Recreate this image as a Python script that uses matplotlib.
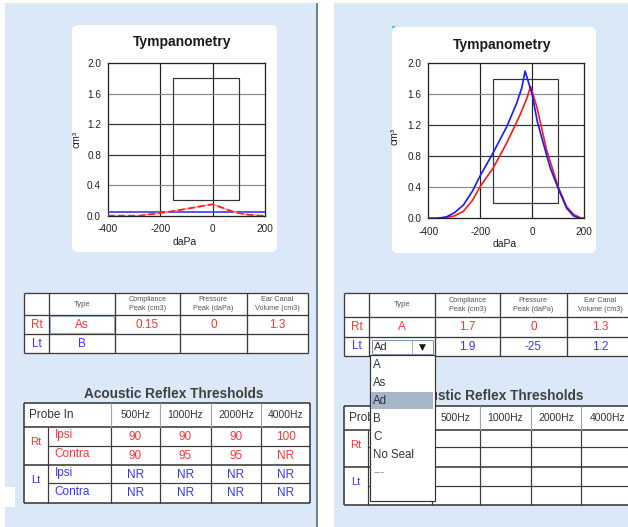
import matplotlib
matplotlib.use("Agg")
import matplotlib.pyplot as plt
from matplotlib.patches import Rectangle, FancyBboxPatch

W, H = 628, 527
plt.rcParams['font.family'] = ['Liberation Sans', 'DejaVu Sans']

# ---- tympanogram data (daPa -> cm3) ----
pressure_ticks = [-400, -200, 0, 200]
volume_ticks = [0.0, 0.4, 0.8, 1.2, 1.6, 2.0]
volume_grid = [0.4, 0.8, 1.2, 1.6]
normal_pressure = [-150, 100]
normal_volume = [0.2, 1.8]

left_rt_pressure = [-400, -280, -200, -150, 0, 80, 130, 180, 200]
left_rt_volume = [0.0, 0.0, 0.035, 0.06, 0.15, 0.05, 0.015, 0.0, 0.0]
left_lt_pressure = [-400, 200]
left_lt_volume = [0.045, 0.045]

right_rt_pressure = [-400, -368, -330, -300, -265, -230, -200, -150, -98, -47, -20, -6,
                     18, 56, 100, 133, 160, 190, 200]
right_rt_volume = [0.0, 0.0, 0.01, 0.03, 0.09, 0.23, 0.41, 0.65, 0.97, 1.33, 1.55, 1.7,
                   1.44, 0.88, 0.41, 0.15, 0.05, 0.0, 0.0]
right_lt_pressure = [-400, -368, -345, -329, -300, -265, -230, -200, -151, -98, -60, -40, -27,
                     0, 20, 43, 70, 100, 133, 160, 185, 200]
right_lt_volume = [0.0, 0.0, 0.01, 0.02, 0.07, 0.17, 0.35, 0.55, 0.84, 1.18, 1.48, 1.68, 1.9,
                   1.6, 1.25, 0.97, 0.65, 0.39, 0.13, 0.03, 0.0, 0.0]

# ---- table data ----
tymp_headers = ["Type", "Compliance\nPeak (cm3)", "Pressure\nPeak (daPa)", "Ear Canal\nVolume (cm3)"]
left_tymp_rt = ["As", "0.15", "0", "1.3"]
left_tymp_lt = ["B", "", "", ""]
right_tymp_rt = ["A", "1.7", "0", "1.3"]
right_tymp_lt = ["", "1.9", "-25", "1.2"]
combo_value = "Ad"
type_options = ["A", "As", "Ad", "B", "C", "No Seal", "---"]
selected_option = "Ad"

freqs = ["500Hz", "1000Hz", "2000Hz", "4000Hz"]
left_art = {
    ("Rt", "Ipsi"): ["90", "90", "90", "100"],
    ("Rt", "Contra"): ["90", "95", "95", "NR"],
    ("Lt", "Ipsi"): ["NR", "NR", "NR", "NR"],
    ("Lt", "Contra"): ["NR", "NR", "NR", "NR"],
}
# right table: the row names sit under the open drop-down list
right_art = {("Rt", ""): ["", "", "", ""], ("Rt ", ""): ["", "", "", ""],
             ("Lt", ""): ["", "", "", ""], ("Lt ", ""): ["", "", "", ""]}

RED = '#ff3535'
BLUE = '#3535ff'
PANEL = '#dbe8f7'
LINE = '#3a3a3a'
PX = 0.72  # points per pixel at dpi 100

fig = plt.figure(figsize=(W / 100, H / 100), dpi=100)
fig.patch.set_facecolor('white')

bg = fig.add_axes([0, 0, 1, 1])
bg.set_xlim(0, W)
bg.set_ylim(H, 0)
bg.axis('off')
bg.set_zorder(0)


def px_axes(l, t, r, b):
    return fig.add_axes([l / W, 1 - b / H, (r - l) / W, (b - t) / H])


def line(x0, y0, x1, y1, color=LINE, lw=1.0, z=3):
    bg.plot([x0, x1], [y0, y1], color=color, lw=lw * PX, solid_capstyle='butt', zorder=z)


def txt(x, y, s, size=8, color='#222', ha='center', weight='normal', z=4, **kw):
    return bg.text(x, y, s, fontsize=size, color=color, ha=ha, va='center', weight=weight, zorder=z, **kw)


# panels
bg.add_patch(Rectangle((5, 3), 311, H, fc=PANEL, ec='none', zorder=1))
bg.add_patch(Rectangle((316, 3), 2, H, fc='#6d8198', ec='none', zorder=1))
bg.add_patch(Rectangle((334, 3), W - 334, H, fc=PANEL, ec='none', zorder=1))
bg.add_patch(Rectangle((5, 487), 10, 20, fc='white', ec='none', zorder=1))


def tympanogram(card, box, curves, title_xy, xlabel_xy, ylabel_xy):
    l, t, r, b = card
    bg.add_patch(FancyBboxPatch((l, t), r - l, b - t, boxstyle="round,pad=0,rounding_size=6",
                                fc='white', ec='none', zorder=2))
    ax = px_axes(*box)
    ax.set_zorder(2)
    ax.set_facecolor('white')
    ax.set_xlim(-400, 200)
    ax.set_ylim(0, 2.0)
    ax.set_xticks(pressure_ticks)
    ax.set_xticklabels([str(p) for p in pressure_ticks])
    ax.set_yticks(volume_ticks)
    ax.set_yticklabels([f"{v:.1f}" for v in volume_ticks])
    ax.tick_params(length=0, labelsize=7.2, colors='#222')
    ax.tick_params(axis='y', pad=5)
    ax.tick_params(axis='x', pad=6)
    for s in ax.spines.values():
        s.set_color('#222')
        s.set_linewidth(1.0 * PX * 1.3)
    for p in pressure_ticks[1:-1]:
        ax.axvline(p, color='#222', lw=1.2 * PX, zorder=1)
    for v in volume_grid:
        ax.axhline(v, color='#333' if v in (0.8, 1.2) else '#8a8a8a', lw=1.2 * PX, zorder=1)
    ax.add_patch(Rectangle((normal_pressure[0], normal_volume[0]),
                           normal_pressure[1] - normal_pressure[0],
                           normal_volume[1] - normal_volume[0],
                           fill=False, ec='#333', lw=1.2 * PX, zorder=2))
    for xs, ys, c, ls in curves:
        ax.plot(xs, ys, color=c, lw=1.4 * PX * 1.2, ls=ls, zorder=3, clip_on=True)
    txt(*title_xy, "Tympanometry", size=10, weight='bold', color='#1a1a1a')
    txt(*xlabel_xy, "daPa", size=7.5, color='#222')
    txt(*ylabel_xy, "cm³", size=7.5, color='#222', rotation=90)
    return ax


tympanogram((72, 25, 277, 252), (108, 63, 265, 215.7),
            [(left_lt_pressure, left_lt_volume, '#3a3aff', '-'),
             (left_rt_pressure, left_rt_volume, '#ff9a9a', '-'),
             (left_rt_pressure, left_rt_volume, '#ff1a1a', (0, (4, 2)))],
            (182, 42), (185, 242), (77, 139))
tympanogram((392, 27, 596, 253), (428.3, 63.3, 584, 218.3),
            [(right_rt_pressure, right_rt_volume, '#ff1a1a', '-'),
             (right_lt_pressure, right_lt_volume, '#1a1aff', '-')],
            (502, 45), (505, 244), (395, 136))
bg.add_patch(Rectangle((392, 26), 3, 2, fc='#33d6e0', ec='none', zorder=3))


def tymp_table(cols, rows, rt_vals, lt_vals):
    x0, x1 = cols[0], cols[-1]
    bg.add_patch(Rectangle((x0, rows[0]), x1 - x0, rows[-1] - rows[0], fc='white', ec='none', zorder=2))
    for y in rows:
        line(x0, y, x1, y, lw=1.3)
    for x in cols:
        line(x, rows[0], x, rows[-1], lw=1.3)
    yc = [(rows[i] + rows[i + 1]) / 2 for i in range(3)]
    xc = [(cols[i] + cols[i + 1]) / 2 for i in range(len(cols) - 1)]
    txt(xc[1], yc[0], tymp_headers[0], size=5.5, color='#555')
    for i, h in enumerate(tymp_headers[1:]):
        txt(xc[i + 2], yc[0], h, size=5.2, color='#555', linespacing=1.35)
    txt(xc[0], yc[1], "Rt", size=8.5, color=RED)
    txt(xc[0], yc[2], "Lt", size=8.5, color=BLUE)
    for i, v in enumerate(rt_vals):
        txt(xc[i + 1], yc[1] + 0.5, v, size=8.5, color=RED)
    for i, v in enumerate(lt_vals):
        txt(xc[i + 1], yc[2] + 0.5, v, size=8.5, color=BLUE)
    return xc, yc


# left tympanometry table
lcols = [24, 49.3, 115, 180, 246.7, 308]
lrows = [293.3, 315, 334.3, 353.3]
tymp_table(lcols, lrows, left_tymp_rt, left_tymp_lt)
bg.add_patch(Rectangle((lcols[1] + 1, lrows[1] + 1), lcols[2] - lcols[1] - 2, lrows[2] - lrows[1] - 2,
                       fill=False, ec='#8fa6c2', lw=1.0 * PX, zorder=3.5))

# right tympanometry table
rcols = [344, 369.3, 435, 500, 566.7, 634]
rrows = [293.3, 316.7, 336.7, 355.7]
tymp_table(rcols, rrows, right_tymp_rt, right_tymp_lt)
bg.add_patch(Rectangle((371.7, 340), 61.6, 14.3, fc='white', ec='#7f96b3', lw=1.0 * PX, zorder=3.5))
line(411.7, 340, 411.7, 354.3, color='#9fb2c8', lw=1.0, z=3.6)
txt(374, 347.5, combo_value, size=8, color='#333', ha='left')
txt(422.5, 347.5, "▼", size=6.5, color='#111', family=['DejaVu Sans'])

# region covered by the open drop-down list
drop_l, drop_t, drop_r, drop_b = 370, 355, 435, 500.7


def clip_outside_drop(t, left_side):
    if left_side:
        r = Rectangle((0, 0), drop_l, H, transform=bg.transData)
    else:
        r = Rectangle((drop_r, 0), W - drop_r, H, transform=bg.transData)
    t.set_clip_path(r)
    t.set_clip_on(True)


def art_table(cols, rows, title_xy, data, under_drop=False):
    x0, x1 = cols[0], cols[-1]
    t = txt(*title_xy, "Acoustic Reflex Thresholds", size=9.8, weight='bold', color='#404040')
    if under_drop:
        clip_outside_drop(t, False)
    bg.add_patch(Rectangle((x0, rows[0]), x1 - x0, rows[-1] - rows[0], fc='white', ec='none', zorder=2))
    for y in (rows[0], rows[1], rows[3], rows[5]):
        line(x0, y, x1, y, lw=1.6)
    for y in (rows[2], rows[4]):
        line(cols[1], y, x1, y, lw=1.2)
    line(x0, rows[0], x0, rows[-1], lw=1.6)
    line(x1, rows[0], x1, rows[-1], lw=1.6)
    line(cols[1], rows[1], cols[1], rows[-1], lw=1.2)
    for x in cols[2:-1]:
        line(x, rows[1], x, rows[-1], lw=1.2)
        line(x, rows[0], x, rows[1], color='#9aa7b5', lw=1.2)
    xc = [(cols[i] + cols[i + 1]) / 2 for i in range(len(cols) - 1)]
    yc = [(rows[i] + rows[i + 1]) / 2 for i in range(len(rows) - 1)]
    t = txt(x0 + 5, yc[0], "Probe In", size=8.5, color='#333', ha='left')
    if under_drop:
        clip_outside_drop(t, True)
    for i, f in enumerate(freqs):
        txt(xc[i + 2], yc[0], f, size=7.5, color='#333')
    txt(xc[0], (rows[1] + rows[3]) / 2 - 4, "Rt", size=8, color=RED)
    txt(xc[0], (rows[3] + rows[5]) / 2 - 4, "Lt", size=8, color=BLUE)
    for j, (key, vals) in enumerate(data.items()):
        c = RED if key[0].strip() == "Rt" else BLUE
        if key[1]:
            txt(cols[1] + 7, yc[j + 1] - 1, key[1], size=8.5, color=c, ha='left')
        for i, v in enumerate(vals):
            if v:
                txt(xc[i + 2], yc[j + 1] + 0.5, v, size=8.5, color=c)


art_table([24, 47.7, 111, 160, 210.7, 261, 310], [402.7, 426.7, 445.7, 465, 483.3, 502.7],
          (174, 393.5), left_art)
art_table([344, 368.3, 431.7, 480, 530.7, 581, 634], [406, 430, 447.3, 467.3, 486, 505],
          (494, 395.5), right_art, under_drop=True)

# open drop-down list of the Lt type combo
bg.add_patch(Rectangle((drop_l, drop_t), drop_r - drop_l, drop_b - drop_t,
                       fc='white', ec='#333', lw=1.2 * PX, zorder=6))
for i, opt in enumerate(type_options):
    y = 365 + 18 * i
    if opt == selected_option:
        bg.add_patch(Rectangle((drop_l + 1, y - 8.7), 62, 17, fc='#a6b6c9', ec='none', zorder=6.5))
    bg.text(373, y, opt, fontsize=8.3, color='#8a8a8a' if opt == "---" else '#333',
            ha='left', va='center', zorder=7)

fig.savefig("out.png", dpi=100, facecolor='white')
